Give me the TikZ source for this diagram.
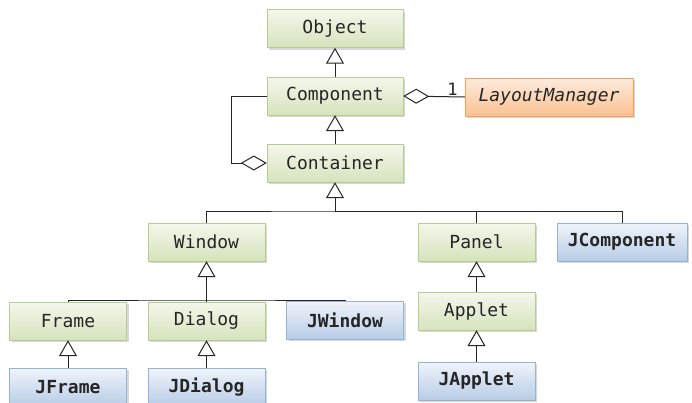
\documentclass[tikz,border=0pt]{standalone}
\usepackage{fontspec}
\setmonofont{DejaVu Sans Mono}
\usetikzlibrary{arrows.meta,shadows}
\definecolor{greentop}{RGB}{244,247,236}
\definecolor{greenbot}{RGB}{214,227,188}
\definecolor{greenline}{RGB}{184,204,146}
\definecolor{bluetop}{RGB}{240,244,251}
\definecolor{bluebot}{RGB}{184,204,230}
\definecolor{blueline}{RGB}{149,179,215}
\definecolor{orangetop}{RGB}{253,236,222}
\definecolor{orangebot}{RGB}{250,192,144}
\definecolor{orangeline}{RGB}{246,160,90}
\tikzset {>=Stealth,
  cls/.style={rectangle,draw,minimum height=38pt,inner sep=0pt,
    font=\fontsize{18}{21}\selectfont\ttfamily,text=black!85,
    drop shadow={shadow xshift=2pt,shadow yshift=-2pt,opacity=0.3}},
  awt/.style={cls,draw=greenline,top color=greentop,bottom color=greenbot},
  swing/.style={cls,draw=blueline,top color=bluetop,bottom color=bluebot,
    font=\fontsize{18}{21}\selectfont\ttfamily\bfseries},
  iface/.style={cls,draw=orangeline,top color=orangetop,bottom color=orangebot,
    font=\fontsize{18}{21}\selectfont\ttfamily\itshape},
  gen/.style={line width=1pt,black!85,
    -{Triangle[open,length=16pt,width=18pt,line width=1pt,fill=white]}},
  aggr/.style={line width=1pt,black!85,
    -{Diamond[open,length=26pt,width=15pt,line width=1pt,fill=white]}},
  wire/.style={line width=1pt,black!85}}
\begin{document}
\begin{tikzpicture}[x=1pt,y=-1pt]
\useasboundingbox[fill=white] (0,0) rectangle (692,402);

\node[awt,minimum width=136pt] (Object) at (335,28.5) {Object};
\node[awt,minimum width=136pt] (Component) at (335,96) {Component};
\node[awt,minimum width=136pt] (Container) at (335,163) {Container};
\node[iface,minimum width=168pt] (LayoutManager) at (549,97) {LayoutManager};

\node[awt,minimum width=117pt] (Window) at (206.5,242) {Window};
\node[awt,minimum width=117pt] (Panel) at (476.5,242) {Panel};
\node[swing,minimum width=130pt] (JComponent) at (622,242) {JComponent};

\node[awt,minimum width=117pt] (Frame) at (68,321) {Frame};
\node[awt,minimum width=117pt] (Dialog) at (206.5,321) {Dialog};
\node[swing,minimum width=117pt] (JWindow) at (345,320) {JWindow};
\node[awt,minimum width=117pt] (Applet) at (476.5,311) {Applet};

\node[swing,minimum width=117pt] (JFrame) at (68,387) {JFrame};
\node[swing,minimum width=117pt] (JDialog) at (206.5,387) {JDialog};
\node[swing,minimum width=117pt] (JApplet) at (476.5,381) {JApplet};

\draw[gen] (Component) -- (Object);
\draw[gen] (Container) -- (Component);
\draw[aggr] (LayoutManager.west) -- node[above,pos=0.2,inner sep=1pt,
  font=\fontsize{17}{20}\selectfont\ttfamily,text=black!85] {1} (Component.east);
\draw[aggr] (Component.west) -- ++(-35,0) |- (Container.west);

\coordinate (busA) at (335,211);
\draw[wire] (Window.north) |- (busA) -| (JComponent.north);
\draw[wire] (Panel.north) |- (busA);
\draw[gen] (busA) -- (Container);

\coordinate (busB) at (206.5,300);
\draw[wire] (Frame.north) |- (busB) -| (JWindow.north);
\draw[wire] (Dialog.north) -- (busB);
\draw[gen] (busB) -- (Window);

\draw[gen] (JFrame) -- (Frame);
\draw[gen] (JDialog) -- (Dialog);
\draw[gen] (Applet) -- (Panel);
\draw[gen] (JApplet) -- (Applet);
\end{tikzpicture}
\end{document}
